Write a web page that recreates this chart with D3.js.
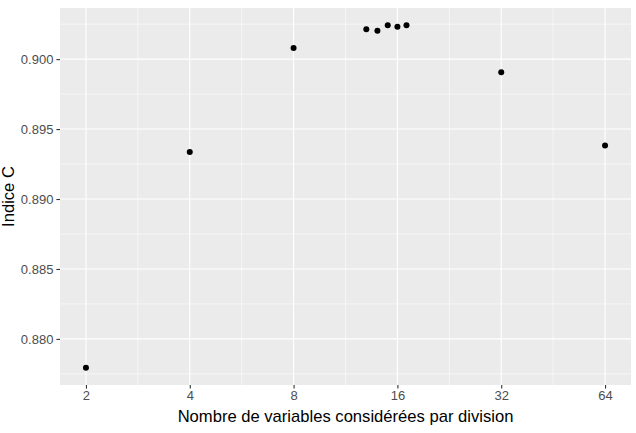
<!DOCTYPE html>
<html><head><meta charset="utf-8">
<script src="https://cdn.jsdelivr.net/npm/d3@7"></script>
<style>body{margin:0;background:#fff}svg{display:block}text{font-family:"Liberation Sans",Arial,sans-serif}</style>
</head><body><svg id="c" width="636" height="433"></svg>
<script>
const mtry = [2, 4, 8, 13, 14, 15, 16, 17, 32, 64];
const cIndex = [0.87793, 0.89336, 0.90079, 0.90214, 0.90202, 0.90243, 0.90231, 0.90243, 0.89907, 0.89383];
const xTicks = [2, 4, 8, 16, 32, 64];
const yTicks = [0.880, 0.885, 0.890, 0.895, 0.900];
const xLabel = "Nombre de variables considérées par division";
const yLabel = "Indice C";

const svg = d3.select("#c");
const L = 60, R = 631, T = 8, B = 385;
const lx = d3.extent(mtry.map(Math.log2));
const ex = (lx[1]-lx[0])*0.05;
const x = d3.scaleLog().base(2).domain([Math.pow(2, lx[0]-ex), Math.pow(2, lx[1]+ex)]).range([L, R]);
const ye = d3.extent(cIndex); const ey = (ye[1]-ye[0])*0.05;
const y = d3.scaleLinear().domain([ye[0]-ey, ye[1]+ey]).range([B, T]);

svg.append("rect").attr("x", L).attr("y", T).attr("width", R-L).attr("height", B-T).attr("fill", "#EBEBEB");
// minor grid
const yMinor = yTicks.map(v => v - 0.0025).concat([yTicks[yTicks.length-1] + 0.0025]).filter(v => v > y.domain()[0] && v < y.domain()[1]);
const xMinor = xTicks.slice(0, -1).map(v => v*Math.SQRT2);
const g = svg.append("g");
g.selectAll(".ym").data(yMinor).join("line").attr("x1", L).attr("x2", R).attr("y1", d=>y(d)).attr("y2", d=>y(d)).attr("stroke", "#fff").attr("stroke-width", 0.55);
g.selectAll(".xm").data(xMinor).join("line").attr("y1", T).attr("y2", B).attr("x1", d=>x(d)).attr("x2", d=>x(d)).attr("stroke", "#fff").attr("stroke-width", 0.55);
g.selectAll(".yM").data(yTicks).join("line").attr("x1", L).attr("x2", R).attr("y1", d=>y(d)).attr("y2", d=>y(d)).attr("stroke", "#fff").attr("stroke-width", 1.1);
g.selectAll(".xM").data(xTicks).join("line").attr("y1", T).attr("y2", B).attr("x1", d=>x(d)).attr("x2", d=>x(d)).attr("stroke", "#fff").attr("stroke-width", 1.1);

// axes
const xAxis = svg.append("g").attr("transform", `translate(0,${B})`)
  .call(d3.axisBottom(x).tickValues(xTicks).tickFormat(d3.format("d")).tickSize(3.6).tickPadding(2.5));
const yAxis = svg.append("g").attr("transform", `translate(${L},0)`)
  .call(d3.axisLeft(y).tickValues(yTicks).tickFormat(d3.format(".3f")).tickSize(3.6).tickPadding(3));
[xAxis, yAxis].forEach(a => {
  a.select(".domain").remove();
  a.selectAll(".tick line").attr("stroke", "#333").attr("stroke-width", 1.1);
  a.selectAll(".tick text").attr("fill", "#4D4D4D").style("font-size", "13px").style("font-family", '"Liberation Sans",Arial,sans-serif');
});

svg.selectAll(".pt").data(mtry).join("circle")
  .attr("cx", d => x(d)).attr("cy", (d,i) => y(cIndex[i])).attr("r", 3).attr("fill", "#000");

svg.append("text").attr("x", (L+R)/2).attr("y", 422).attr("text-anchor", "middle").style("font-size", "16.6px").attr("fill", "#000").text(xLabel);
svg.append("text").attr("transform", `translate(14,${(T+B)/2}) rotate(-90)`).attr("text-anchor", "middle").style("font-size", "16.6px").attr("fill", "#000").text(yLabel);
</script></body></html>
